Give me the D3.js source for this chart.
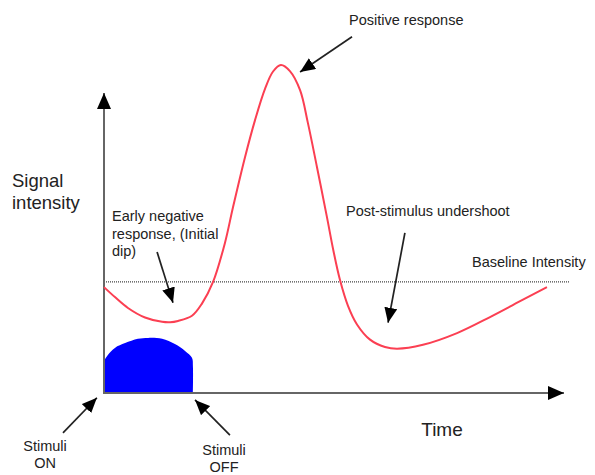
<!DOCTYPE html>
<html>
<head>
<meta charset="utf-8">
<script src="https://cdn.jsdelivr.net/npm/d3@7.9.0/dist/d3.min.js"></script>
<style>
  body { margin: 0; background: #fff; }
  svg text { font-family: "Liberation Sans", Arial, sans-serif; fill: #222; }
</style>
</head>
<body>
<svg width="595" height="475"></svg>
<script>
// response curve (time in s, signal relative to baseline)
const time = [0, 0.57, 1.25, 2.14, 3.03, 3.45, 3.86, 4.59, 5.11, 5.69, 6.31, 6.73, 7.36, 7.88, 8.4, 8.82, 9.23,
  9.7, 10.23, 10.64, 11.11, 11.63, 11.97, 12.31, 12.73, 13.2, 13.88, 14.66, 15.29, 16.64, 18.42, 20.14, 21.86, 23.11];
const signal = [-0.12, -0.35, -0.6, -0.82, -0.92, -0.93, -0.9, -0.78, -0.5, 0, 0.9, 1.72, 2.88, 3.73, 4.45, 4.85, 5,
  4.86, 4.42, 3.66, 2.65, 1.5, 0.72, 0.05, -0.55, -0.98, -1.33, -1.5, -1.54, -1.45, -1.18, -0.81, -0.41, -0.12];

// stimulus block outline
const stimTime = [0, 0, 0.21, 0.57, 1.1, 1.77, 2.3, 3.03, 3.7, 4.23, 4.59, 4.64, 4.64];
const stimLevel = [-2.56, -1.85, -1.68, -1.52, -1.41, -1.31, -1.29, -1.31, -1.43, -1.59, -1.75, -1.96, -2.56];

const baseline = 0;
const timeMax = 24;
const signalMin = -2.56;
const signalMax = 5;

// annotation arrows: [tailTime, tailSignal, tipTime, tipSignal]
const arrows = [
  [2.77, 0.69, 3.6, -0.48],
  [12.94, 5.65, 10.23, 4.84],
  [15.7, 1.13, 14.82, -0.94],
  [-2.14, -3.48, -0.37, -2.67],
  [6.57, -3.53, 4.75, -2.72]
];

const svg = d3.select('svg');
const x = d3.scaleLinear().domain([0, timeMax]).range([104, 564]);
const y = d3.scaleLinear().domain([signalMin, signalMax]).range([393, 65]);

const defs = svg.append('defs');
defs.append('marker')
  .attr('id', 'head').attr('markerUnits', 'userSpaceOnUse')
  .attr('viewBox', '0 0 15 13').attr('refX', 15).attr('refY', 6.5)
  .attr('markerWidth', 15).attr('markerHeight', 13).attr('orient', 'auto')
  .append('path').attr('d', 'M0,0L15,6.5L0,13Z').attr('fill', '#000');
defs.append('marker')
  .attr('id', 'axhead').attr('markerUnits', 'userSpaceOnUse')
  .attr('viewBox', '0 0 16 14').attr('refX', 16).attr('refY', 7)
  .attr('markerWidth', 16).attr('markerHeight', 14).attr('orient', 'auto')
  .append('path').attr('d', 'M0,0L16,7L0,14Z').attr('fill', '#000');

// stimulus
const stimPts = stimTime.map((t, i) => [x(t), y(stimLevel[i])]);
svg.append('path')
  .attr('d', d3.line().curve(d3.curveCatmullRom.alpha(0.5))(stimPts) + 'Z')
  .attr('fill', '#0000ff');

// baseline
svg.append('line')
  .attr('x1', x(0)).attr('x2', 570)
  .attr('y1', y(baseline)).attr('y2', y(baseline))
  .attr('stroke', '#444').attr('stroke-width', 1.2).attr('stroke-dasharray', '1,1');

// axes
svg.append('line')
  .attr('x1', x(0)).attr('y1', y(signalMin)).attr('x2', x(0)).attr('y2', 93)
  .attr('stroke', '#666').attr('stroke-width', 2).attr('marker-end', 'url(#axhead)');
svg.append('line')
  .attr('x1', x(0) - 1).attr('y1', y(signalMin)).attr('x2', x(timeMax)).attr('y2', y(signalMin))
  .attr('stroke', '#666').attr('stroke-width', 2).attr('marker-end', 'url(#axhead)');

// response curve
const line = d3.line()
  .x((d, i) => x(time[i]))
  .y(d => y(d))
  .curve(d3.curveCatmullRom.alpha(0.5));
svg.append('path')
  .attr('d', line(signal))
  .attr('fill', 'none').attr('stroke', '#fb3f52').attr('stroke-width', 2);

// annotation arrows
arrows.forEach(a => {
  svg.append('line')
    .attr('x1', x(a[0])).attr('y1', y(a[1]))
    .attr('x2', x(a[2])).attr('y2', y(a[3]))
    .attr('stroke', '#222').attr('stroke-width', 1.7)
    .attr('marker-end', 'url(#head)');
});

// labels
function label(lines, px, py, size, anchor, lh) {
  const t = svg.append('text')
    .attr('x', px).attr('y', py)
    .attr('font-size', size)
    .attr('text-anchor', anchor || 'start');
  lines.forEach((s, i) => {
    t.append('tspan').attr('x', px).attr('dy', i === 0 ? 0 : lh).text(s);
  });
}
label(['Signal', 'intensity'], 12, 187, 18.5, 'start', 22);
label(['Early negative', 'response, (Initial', 'dip)'], 112, 221, 14.5, 'start', 17.5);
label(['Positive response'], 349, 25, 14.5);
label(['Post-stimulus undershoot'], 346, 216, 14.5);
label(['Baseline Intensity'], 472, 267, 14.5);
label(['Time'], 442, 436, 19, 'middle');
label(['Stimuli', 'ON'], 45, 451, 14.5, 'middle', 17);
label(['Stimuli', 'OFF'], 224, 455, 14.5, 'middle', 17);
</script>
</body>
</html>
